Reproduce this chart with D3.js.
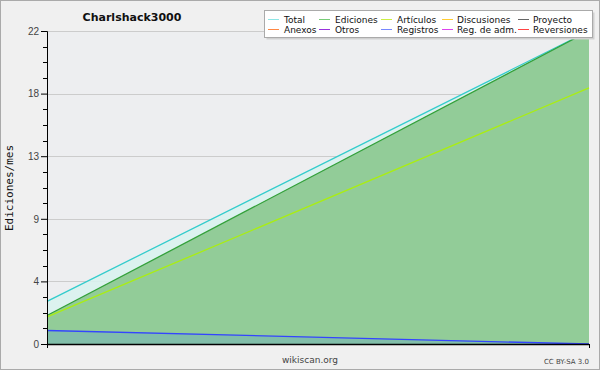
<!DOCTYPE html>
<html>
<head>
<meta charset="utf-8">
<script src="https://cdn.jsdelivr.net/npm/d3@7"></script>
<style>
  body { margin: 0; background: #fff; }
  svg { display: block; font-family: "DejaVu Sans", sans-serif; }
</style>
</head>
<body>
<script>
// data (two monthly points)
const months = [0, 1]
const total = [3.0, 22]
const ediciones = [2.0, 22]
const articulos = [1.9, 18]
const registros = [0.95, 0]

const yTicks = [0, 4.4, 8.8, 13.2, 17.6, 22]
const legendNames = ["Total", "Ediciones", "Artículos", "Discusiones", "Proyecto",
                     "Anexos", "Otros", "Registros", "Reg. de adm.", "Reversiones"]
const legendColors = ["#8ee6e6", "#77cc77", "#ccee44", "#ffcc33", "#666666",
                      "#ff8844", "#9933dd", "#7788ff", "#dd44ee", "#ff4444"]

const W = 600, H = 370
const svg = d3.select("body").append("svg").attr("width", W).attr("height", H)

// outer background + border
svg.append("rect").attr("x", 0.5).attr("y", 0.5).attr("width", W - 1).attr("height", H - 1)
    .attr("fill", "#f0f0f0").attr("stroke", "#aaaaaa")

const pLeft = 47, pRight = 589, pTop = 31, pBottom = 344

const x = d3.scaleLinear().domain([0, 1]).range([pLeft, pRight])
const y = d3.scaleLinear().domain([0, 22]).range([pBottom, pTop])

// plot area
svg.append("rect").attr("x", pLeft).attr("y", pTop).attr("width", pRight - pLeft).attr("height", pBottom - pTop)
    .attr("fill", "#edeef0")

// grid
svg.selectAll(".grid").data(yTicks.slice(1)).enter().append("line")
    .attr("x1", pLeft).attr("x2", pRight)
    .attr("y1", d => Math.round(y(d)) + 0.5).attr("y2", d => Math.round(y(d)) + 0.5)
    .attr("stroke", "#cccccc")

const area = vals => d3.area().x((d, i) => x(months[i])).y0(y(0)).y1(d => y(d))(vals)
const line = vals => d3.line().x((d, i) => x(months[i])).y(d => y(d))(vals)

// filled areas
svg.append("path").attr("d", area(total)).attr("fill", "#d9f2ee").attr("fill-opacity", 0.9)
svg.append("path").attr("d", area(ediciones)).attr("fill", "#92cc98")
svg.append("path").attr("d", area(registros)).attr("fill", "#7ab8b0").attr("fill-opacity", 0.7)

// lines
svg.append("path").attr("d", line(total)).attr("fill", "none").attr("stroke", "#33cccc").attr("stroke-width", 1.3)
svg.append("path").attr("d", line(ediciones)).attr("fill", "none").attr("stroke", "#33a03a").attr("stroke-width", 1.3)
svg.append("path").attr("d", line(articulos)).attr("fill", "none").attr("stroke", "#aaee11").attr("stroke-width", 1.3)
svg.append("path").attr("d", line(registros)).attr("fill", "none").attr("stroke", "#3344ff").attr("stroke-width", 1.3)

// y axis
const yAxis = d3.axisLeft(y).tickValues(yTicks).tickSize(6).tickPadding(2)
    .tickFormat(d => Math.round(d))
const ga = svg.append("g").attr("transform", `translate(${pLeft},0)`).call(yAxis)
ga.select(".domain").attr("stroke", "#000")
ga.selectAll("text").attr("font-size", 10).attr("fill", "#444")

// minor ticks
const minor = []
for (let i = 0; i < yTicks.length - 1; i++) {
    for (let k = 1; k < 4; k++) minor.push(yTicks[i] + (yTicks[i + 1] - yTicks[i]) * k / 4)
}
svg.selectAll(".minor").data(minor).enter().append("line")
    .attr("x1", pLeft - 4).attr("x2", pLeft)
    .attr("y1", d => Math.round(y(d)) + 0.5).attr("y2", d => Math.round(y(d)) + 0.5)
    .attr("stroke", "#000")

// x axis
svg.append("line").attr("x1", pLeft).attr("x2", pRight).attr("y1", pBottom + 0.5).attr("y2", pBottom + 0.5)
    .attr("stroke", "#000").attr("stroke-width", 1.5)
svg.selectAll(".xt").data(months).enter().append("line")
    .attr("x1", d => Math.round(x(d)) + 0.5).attr("x2", d => Math.round(x(d)) + 0.5)
    .attr("y1", pBottom).attr("y2", pBottom + 4).attr("stroke", "#000")

// titles
svg.append("text").attr("x", 132).attr("y", 21).attr("text-anchor", "middle")
    .attr("font-size", 11).attr("font-weight", "bold").attr("fill", "#111").text("Charlshack3000")
svg.append("text").attr("transform", "translate(13,188) rotate(-90)").attr("text-anchor", "middle")
    .attr("font-family", "DejaVu Sans Mono").attr("font-size", 11).attr("fill", "#111").text("Ediciones/mes")
svg.append("text").attr("x", 310).attr("y", 363).attr("text-anchor", "middle")
    .attr("font-size", 9).attr("fill", "#444").text("wikiscan.org")
svg.append("text").attr("x", 589).attr("y", 364).attr("text-anchor", "end")
    .attr("font-size", 7).attr("fill", "#444").text("CC BY-SA 3.0")

// legend
const lg = svg.append("g")
lg.append("rect").attr("x", 266.5).attr("y", 12.5).attr("width", 328).attr("height", 27).attr("fill", "#d0d0d0")
lg.append("rect").attr("x", 264.5).attr("y", 10.5).attr("width", 328).attr("height", 27)
    .attr("fill", "#fff").attr("stroke", "#aaa")
const colX = [268, 319, 381, 442, 518]
const items = lg.selectAll(".item").data(legendNames).enter().append("g")
    .attr("transform", (d, i) => `translate(${colX[i % 5]},${i < 5 ? 19 : 29})`)
items.append("line").attr("x1", 0).attr("x2", 11).attr("y1", 0.5).attr("y2", 0.5)
    .attr("stroke", (d, i) => legendColors[i])
items.append("text").attr("x", (d, i) => [16, 16, 16, 15, 15][i % 5]).attr("y", 4)
    .attr("font-size", 9).attr("fill", "#111").text(d => d)
</script>
</body>
</html>
